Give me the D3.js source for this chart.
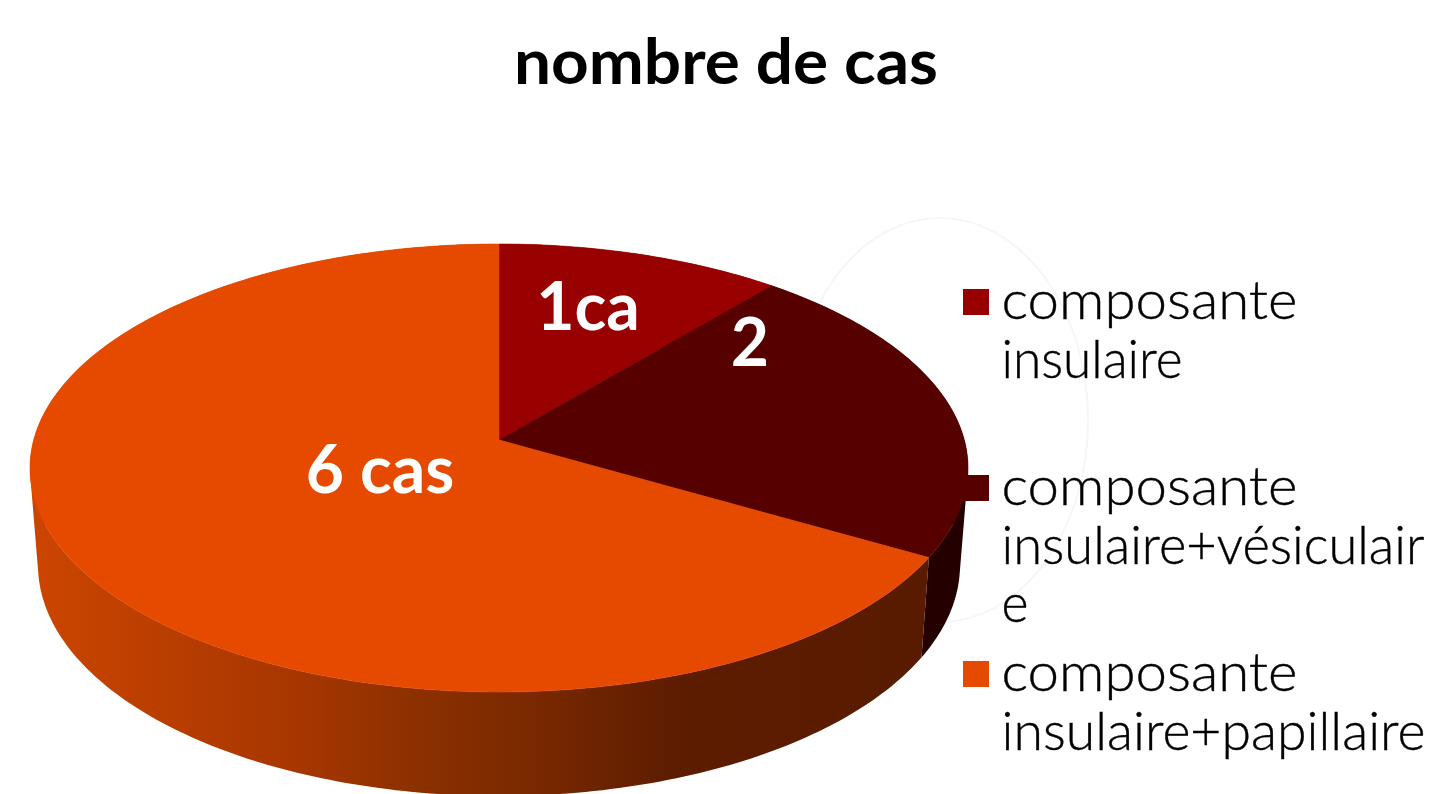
<!DOCTYPE html>
<html>
<head>
<meta charset="utf-8">
<script src="https://cdn.jsdelivr.net/npm/d3@7"></script>
<style>
  html, body { margin: 0; padding: 0; background: #fff; overflow: hidden; }
  text { font-family: Lato, "Open Sans", sans-serif; }
</style>
</head>
<body>
<div id="chart"></div>
<script>
const titre = "nombre de cas";
const categories = ["composante insulaire", "composante insulaire+vésiculaire", "composante insulaire+papillaire"];
const valeurs = [1, 2, 6];
const etiquettes = ["1ca", "2", "6 cas"];
const couleurs = ["#990000", "#560000", "#e64a00"];
const couleursCote = ["#5c0000", "#240000", "url(#coteOrange)"];
const lignesLegende = [
    ["composante", "insulaire"],
    ["composante", "insulaire+vésiculair", "e"],
    ["composante", "insulaire+papillaire"]
];

const width = 1430, height = 794;

const svg = d3.select("#chart").append("svg")
    .attr("width", width)
    .attr("height", height);

// degrade du cote orange, horizontal
const grad = svg.append("defs").append("linearGradient")
    .attr("id", "coteOrange")
    .attr("gradientUnits", "userSpaceOnUse")
    .attr("x1", 38).attr("x2", 922).attr("y1", 0).attr("y2", 0);
[[0, "#cb4500"], [0.3, "#a63600"], [0.41, "#8f3100"], [0.57, "#782800"], [0.73, "#5c1c00"], [1, "#591b00"]]
    .forEach(s => grad.append("stop").attr("offset", s[0]).attr("stop-color", s[1]));

// cercle tres pale derriere le camembert
svg.append("ellipse")
    .attr("cx", 940).attr("cy", 420)
    .attr("rx", 148).attr("ry", 202)
    .attr("fill", "none")
    .attr("stroke", "#f6f6f6")
    .attr("stroke-width", 2);

// perspective : un plan (face du dessus ou du dessous) projete a l'ecran
const fuite = 0.125;
const planHaut = {cx: 499, cy: 468, rx: 469, ry: 224};
const planBas = {cx: 499, cy: 565, rx: 461, ry: 231};

function projeter(angle, rayon, plan) {
    const u = Math.sin(angle) * rayon, v = Math.cos(angle) * rayon;
    const w = 1 + fuite * v;
    return [
        plan.cx + plan.rx * Math.sqrt(1 - fuite * fuite) * u / w,
        plan.cy - plan.ry * (v + fuite) / w
    ];
}

const pie = d3.pie().sort(null).value(d => d);
const parts = pie(valeurs);
const line = d3.line();

function bord(a0, a1, plan) {
    const n = Math.max(2, Math.ceil((a1 - a0) * 60));
    const angle = d3.scaleLinear().domain([0, n]).range([a0, a1]);
    return d3.range(n + 1).map(i => projeter(angle(i), 1, plan));
}

// le cote est une suite de petits quadrilateres, tous dans le meme sens,
// sinon il manque la tangente aux extremites gauche et droite
function cote(d) {
    const haut = bord(d.startAngle, d.endAngle, planHaut);
    const bas = bord(d.startAngle, d.endAngle, planBas);
    return d3.range(haut.length - 1).map(i => {
        const quad = [haut[i], haut[i + 1], bas[i + 1], bas[i]];
        if (d3.polygonArea(quad) < 0) quad.reverse();
        return line(quad) + "Z";
    }).join("");
}

// les cotes d'abord, le dessus vient les recouvrir
svg.append("g").selectAll("path")
    .data(parts)
    .enter().append("path")
    .attr("d", cote)
    .attr("fill", (d, i) => couleursCote[i]);

svg.append("g").selectAll("path")
    .data(parts)
    .enter().append("path")
    .attr("d", d => line([projeter(0, 0, planHaut)].concat(bord(d.startAngle, d.endAngle, planHaut))) + "Z")
    .attr("fill", (d, i) => couleurs[i])
    .attr("stroke", (d, i) => couleurs[i])
    .attr("stroke-width", 0.6);

// titre
svg.append("text")
    .attr("x", 514).attr("y", 84)
    .attr("font-size", 63)
    .attr("font-weight", 700)
    .attr("textLength", 424)
    .attr("lengthAdjust", "spacingAndGlyphs")
    .text(titre);

// etiquettes
const placeEtiquettes = [[588, 330], [750, 366], [380, 493]];
svg.append("g").selectAll("text")
    .data(etiquettes)
    .enter().append("text")
    .attr("x", (d, i) => placeEtiquettes[i][0])
    .attr("y", (d, i) => placeEtiquettes[i][1])
    .attr("text-anchor", "middle")
    .attr("font-size", 66)
    .attr("font-weight", 700)
    .attr("fill", "#fff")
    .text(d => d);

// legende
const legendeY = d3.scalePoint().domain(categories).range([289, 661]);
const largeurLignes = {"composante": 296, "insulaire": 181, "insulaire+vésiculair": 423, "e": 27, "insulaire+papillaire": 424};
const legende = svg.append("g").selectAll("g")
    .data(categories)
    .enter().append("g")
    .attr("transform", d => "translate(963," + legendeY(d) + ")");

legende.append("rect")
    .attr("width", 26).attr("height", 26)
    .attr("fill", (d, i) => couleurs[i]);

legende.each(function(d, i) {
    d3.select(this).selectAll("text")
        .data(lignesLegende[i])
        .enter().append("text")
        .attr("x", 38.5)
        .attr("y", (l, j) => 30 + j * 58.5)
        .attr("font-size", 53)
        .attr("font-weight", 300)
        .attr("fill", "#000")
        .attr("stroke", "#000")
        .attr("stroke-width", 0.4)
        .attr("textLength", l => largeurLignes[l])
        .attr("lengthAdjust", "spacingAndGlyphs")
        .text(l => l);
});
</script>
</body>
</html>
